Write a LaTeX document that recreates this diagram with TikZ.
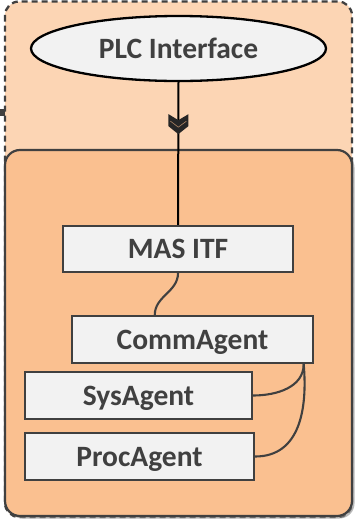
\documentclass[tikz,border=0pt]{standalone}
\usepackage{fontspec}
\setmainfont{Carlito}
\usetikzlibrary{shapes.geometric,calc,decorations.markings,shadows}
\definecolor{outerfill}{HTML}{FCD5B4}
\definecolor{innerfill}{HTML}{FAC090}
\definecolor{boxfill}{HTML}{F2F2F2}
\definecolor{txt}{HTML}{404040}
\definecolor{edge}{HTML}{404040}
\begin{document}
\begin{tikzpicture}[x=1pt,y=-1pt,
  lbl/.style={font=\fontsize{29.5}{32}\selectfont\bfseries, text=txt, text height=19pt, text depth=0pt},
  agentbox/.style={lbl, draw=edge, line width=2.3pt, fill=boxfill, rectangle, inner sep=0pt},
  link/.style={draw=edge, line width=2.1pt},
  chevline/.style={draw=black, line width=2pt,
    postaction={decorate, decoration={markings, mark=at position 32pt with {
      \fill[black!85] (0pt,-10pt) -- (6pt,0pt) -- (0pt,10pt) -- (12pt,10pt) -- (20pt,0pt) -- (12pt,-10pt) -- cycle;
      \draw[draw=innerfill!70!black, line width=0.6pt] (7pt,-8pt) -- (13pt,0pt) -- (7pt,8pt);
    }}}}
]
\useasboundingbox (0,0) rectangle (355,520);
% outer dashed container
\draw[fill=outerfill, draw=edge, line width=2.3pt, dash pattern=on 6pt off 4pt, rounded corners=14pt]
  (5,1.5) rectangle (352,517);
% small stub on the edge
\draw[edge, line width=7pt] (0,112) -- (5,112);
% inner container
\draw[fill=innerfill, draw=edge, line width=2.2pt, rounded corners=15pt,
  drop shadow={shadow xshift=2.5pt, shadow yshift=-2.5pt, fill=black!45, opacity=0.6}]
  (5,150) rectangle (352,516);
% nodes
\node[ellipse, draw=black, line width=2.3pt, fill=boxfill, lbl, minimum width=295, minimum height=65, inner sep=0pt]
  (plc) at (178.5,48.5) {PLC Interface};
\node[agentbox, minimum width=230, minimum height=46] (mas) at (178,249) {MAS ITF};
\node[agentbox, minimum width=241, minimum height=47] (comm) at (192.5,339.5) {CommAgent};
\node[agentbox, minimum width=227, minimum height=47] (sys) at (138.5,395.5) {SysAgent};
\node[agentbox, minimum width=229, minimum height=47] (proc) at (139.5,456.5) {ProcAgent};
% connectors
\draw[chevline] (plc.south) -- (mas.north);
\coordinate (commtop) at ($(comm.north west)!0.345!(comm.north east)$);
\coordinate (commbot) at ($(comm.south west)!0.957!(comm.south east)$);
\draw[link] (mas.south) to[out=-90, in=90] (commtop);
\draw[link] (commbot) to[out=-90, in=0] (sys.east);
\draw[link] (commbot) to[out=-85, in=0, looseness=1.1] (proc.east);
\end{tikzpicture}
\end{document}
